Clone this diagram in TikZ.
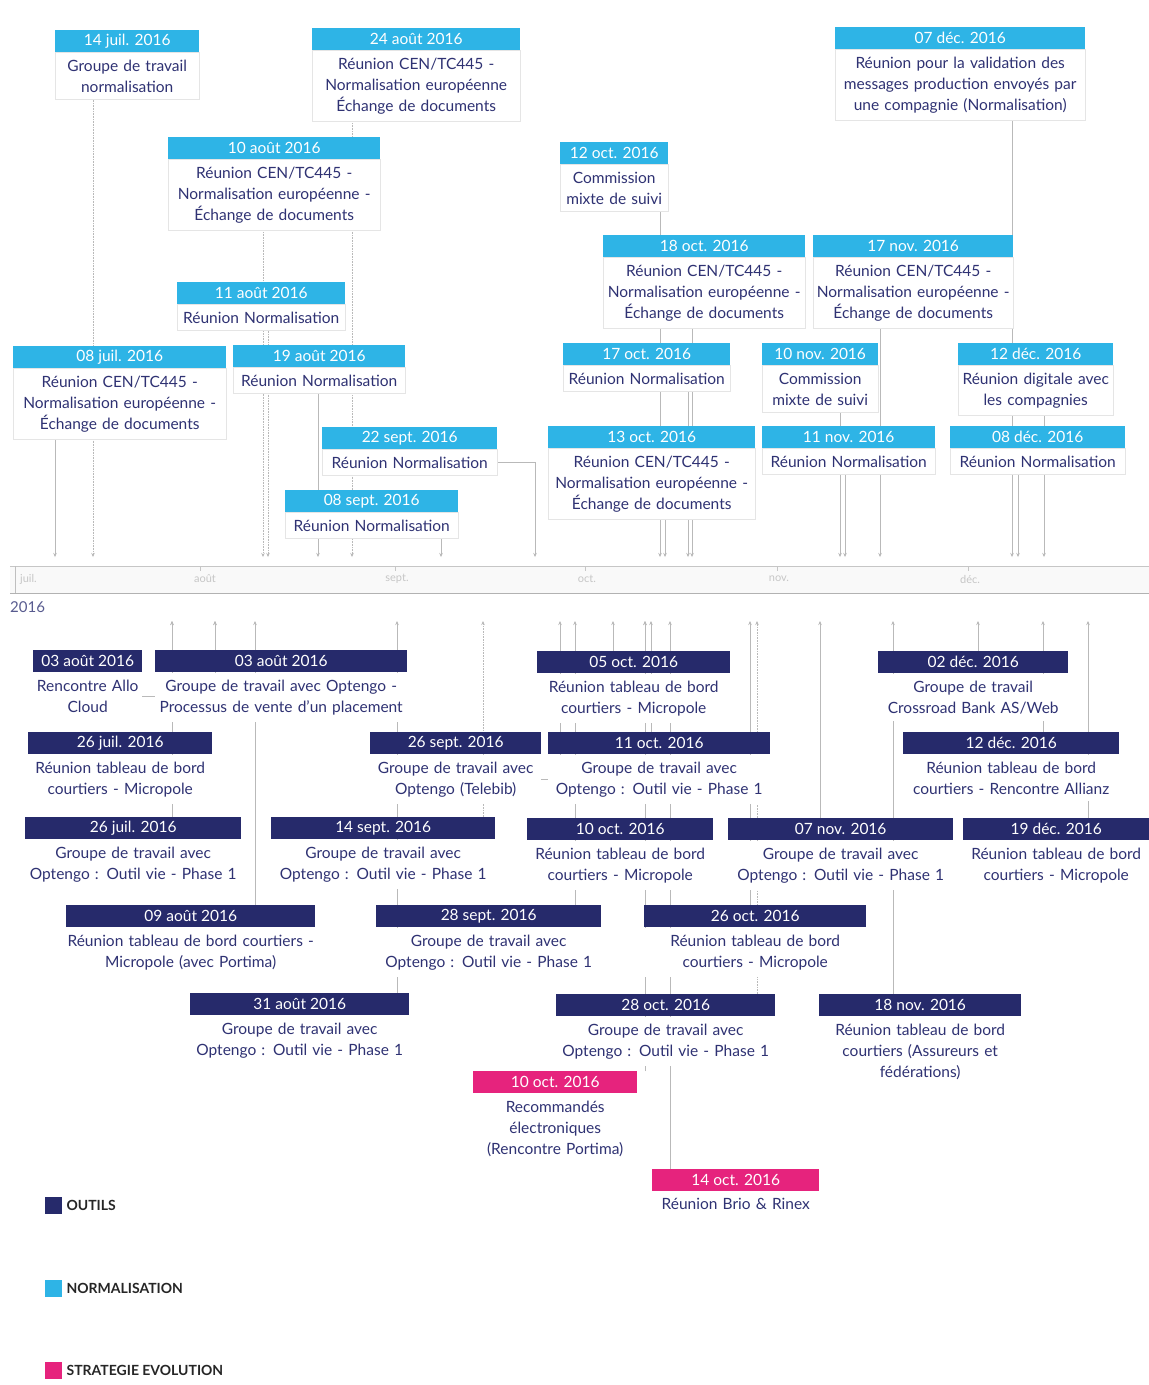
\documentclass[tikz,border=0pt]{standalone}
\usepackage{fontspec}
\setmainfont{Lato}
\usetikzlibrary{arrows.meta,backgrounds}
\definecolor{normblue}{HTML}{2EB4E6}
\definecolor{outnavy}{HTML}{262A6B}
\definecolor{stratpink}{HTML}{E6237D}
\definecolor{ink}{HTML}{2F3273}

\pgfdeclarelayer{paper}
\pgfsetlayers{paper,background,main}

% one event: #1 name, #2 header colour, #3 left, #4 right, #5 top, #6 date, #7 text, #8 body style
\newcommand{\evt}[8]{%
  \pgfmathsetmacro{\evw}{#4-#3}%
  \node[hdr, fill=#2, minimum width=\evw pt, anchor=north west] (#1h) at (#3,#5) {#6};
  \node[#8, text width=\evw pt, anchor=north] (#1b) at (#1h.south) {#7};
}

\begin{document}
\begin{tikzpicture}[x=1pt,y=-1pt,
  hdr/.style={inner sep=0pt, minimum height=22pt, text=white,
    font=\fontsize{15.5}{17}\selectfont},
  topbody/.style={fill=white, draw=gray!20, line width=0.8pt, inner xsep=0pt,
    inner ysep=7pt, align=center, text=ink, font=\fontsize{15.5}{21}\selectfont},
  botbody/.style={fill=white, inner xsep=0pt, inner ysep=7pt, align=center,
    text=ink, font=\fontsize{15.5}{21}\selectfont},
  conn/.style={draw=gray!55, line width=0.6pt, -{Stealth[length=4pt,width=3.5pt]}},
  dotconn/.style={conn, densely dotted, line width=0.9pt},
  month/.style={text=gray!45, font=\fontsize{11}{12}\selectfont, inner sep=0pt},
  legbox/.style={minimum size=17pt, inner sep=0pt, anchor=north west},
  legtxt/.style={anchor=west, inner sep=0pt, text=black!85,
    font=\bfseries\fontsize{14}{14}\selectfont}]

\begin{pgfonlayer}{paper}
  \fill[white] (0,0) rectangle (1149,1385);
\end{pgfonlayer}
\useasboundingbox (0,0) rectangle (1149,1385);

% ---------- time axis ----------
\node[fill=gray!5, minimum width=1139pt, minimum height=27pt, inner sep=0pt,
  anchor=north west] (tl) at (10,566) {};
\draw[gray!45, line width=0.8pt] (tl.north west) -- (tl.north east);
\draw[gray!60, line width=1.6pt] (tl.south west) -- (tl.south east);
\draw[gray!50, line width=0.8pt] ([xshift=5pt]tl.north west) -- ([xshift=5pt]tl.south west);
\foreach \mx in {200,395,585,777,968}
  \draw[gray!45, line width=0.6pt] (\mx,566) -- (\mx,571);
\node[month, anchor=west] (mjul) at (20,579) {juil.};
\node[month] (maug) at (205,579) {août};
\node[month] (msep) at (397,579) {sept.};
\node[month] (moct) at (587,579) {oct.};
\node[month] (mnov) at (779,579) {nov.};
\node[month] (mdec) at (970,579) {déc.};
\node[anchor=west, inner sep=0pt, text=ink!80, font=\fontsize{15}{16}\selectfont]
  (year) at (10,607) {2016};

% ---------- normalisation (above the axis) ----------
\evt{A}{normblue}{55}{199}{30}{14 juil. 2016}{Groupe de travail\\normalisation}{topbody}
\evt{B}{normblue}{312}{520}{28}{24 août 2016}{Réunion CEN/TC445 -\\Normalisation européenne\\Échange de documents}{topbody}
\evt{C}{normblue}{168}{380}{137}{10 août 2016}{Réunion CEN/TC445 -\\Normalisation européenne -\\Échange de documents}{topbody}
\evt{D}{normblue}{177}{345}{282}{11 août 2016}{Réunion Normalisation}{topbody}
\evt{E}{normblue}{13}{226}{346}{08 juil. 2016}{Réunion CEN/TC445 -\\Normalisation européenne -\\Échange de documents}{topbody}
\evt{F}{normblue}{233}{405}{345}{19 août 2016}{Réunion Normalisation}{topbody}
\evt{G}{normblue}{322}{497}{427}{22 sept. 2016}{Réunion Normalisation}{topbody}
\evt{H}{normblue}{285}{458}{490}{08 sept. 2016}{Réunion Normalisation}{topbody}
\evt{I}{normblue}{835}{1085}{27}{07 déc. 2016}{Réunion pour la validation des\\messages production envoyés par\\une compagnie (Normalisation)}{topbody}
\evt{J}{normblue}{560}{668}{142}{12 oct. 2016}{Commission\\mixte de suivi}{topbody}
\evt{K}{normblue}{603}{805}{235}{18 oct. 2016}{Réunion CEN/TC445 -\\Normalisation européenne -\\Échange de documents}{topbody}
\evt{L}{normblue}{813}{1013}{235}{17 nov. 2016}{Réunion CEN/TC445 -\\Normalisation européenne -\\Échange de documents}{topbody}
\evt{M}{normblue}{563}{730}{343}{17 oct. 2016}{Réunion Normalisation}{topbody}
\evt{N}{normblue}{762}{878}{343}{10 nov. 2016}{Commission\\mixte de suivi}{topbody}
\evt{O}{normblue}{958}{1113}{343}{12 déc. 2016}{Réunion digitale avec\\les compagnies}{topbody}
\evt{P}{normblue}{548}{755}{426}{13 oct. 2016}{Réunion CEN/TC445 -\\Normalisation européenne -\\Échange de documents}{topbody}
\evt{Q}{normblue}{762}{935}{426}{11 nov. 2016}{Réunion Normalisation}{topbody}
\evt{R}{normblue}{950}{1125}{426}{08 déc. 2016}{Réunion Normalisation}{topbody}

% ---------- outils and stratégie (below the axis) ----------
\evt{ba}{outnavy}{33}{142}{650}{03 août 2016}{Rencontre Allo\\Cloud}{botbody}
\evt{bb}{outnavy}{155}{407}{650}{03 août 2016}{Groupe de travail avec Optengo -\\Processus de vente d'un placement}{botbody}
\evt{bc}{outnavy}{28}{212}{732}{26 juil. 2016}{Réunion tableau de bord\\courtiers - Micropole}{botbody}
\evt{bd}{outnavy}{25}{241}{817}{26 juil. 2016}{Groupe de travail avec\\Optengo : Outil vie - Phase 1}{botbody}
\evt{be}{outnavy}{66}{315}{905}{09 août 2016}{Réunion tableau de bord courtiers -\\Micropole (avec Portima)}{botbody}
\evt{bf}{outnavy}{190}{409}{993}{31 août 2016}{Groupe de travail avec\\Optengo : Outil vie - Phase 1}{botbody}
\evt{bg}{outnavy}{370}{541}{732}{26 sept. 2016}{Groupe de travail avec\\Optengo (Telebib)}{botbody}
\evt{bh}{outnavy}{271}{495}{817}{14 sept. 2016}{Groupe de travail avec\\Optengo : Outil vie - Phase 1}{botbody}
\evt{bi}{outnavy}{376}{601}{905}{28 sept. 2016}{Groupe de travail avec\\Optengo : Outil vie - Phase 1}{botbody}
\evt{bj}{outnavy}{537}{730}{651}{05 oct. 2016}{Réunion tableau de bord\\courtiers - Micropole}{botbody}
\evt{bk}{outnavy}{548}{770}{732}{11 oct. 2016}{Groupe de travail avec\\Optengo : Outil vie - Phase 1}{botbody}
\evt{bl}{outnavy}{527}{713}{818}{10 oct. 2016}{Réunion tableau de bord\\courtiers - Micropole}{botbody}
\evt{bm}{outnavy}{644}{866}{905}{26 oct. 2016}{Réunion tableau de bord\\courtiers - Micropole}{botbody}
\evt{bn}{outnavy}{556}{775}{994}{28 oct. 2016}{Groupe de travail avec\\Optengo : Outil vie - Phase 1}{botbody}
\evt{bo}{stratpink}{473}{637}{1071}{10 oct. 2016}{Recommandés\\électroniques\\(Rencontre Portima)}{botbody}
\evt{bp}{stratpink}{652}{819}{1169}{14 oct. 2016}{Réunion Brio \& Rinex}{botbody}
\evt{bq}{outnavy}{728}{953}{818}{07 nov. 2016}{Groupe de travail avec\\Optengo : Outil vie - Phase 1}{botbody}
\evt{br}{outnavy}{819}{1021}{994}{18 nov. 2016}{Réunion tableau de bord\\courtiers (Assureurs et\\fédérations)}{botbody}
\evt{bs}{outnavy}{878}{1068}{651}{02 déc. 2016}{Groupe de travail\\Crossroad Bank AS/Web}{botbody}
\evt{bt}{outnavy}{903}{1119}{732}{12 déc. 2016}{Réunion tableau de bord\\courtiers - Rencontre Allianz}{botbody}
\evt{bu}{outnavy}{963}{1149}{818}{19 déc. 2016}{Réunion tableau de bord\\courtiers - Micropole}{botbody}

% ---------- points on the axis ----------
\foreach \n/\x in {A/93,B/352,C/263,D/268,E/55,F/318,G/535,H/441,I/1012,J/660,
                   K/692,L/880,M/688,N/840,O/1044,P/665,Q/845,R/1018}
  \coordinate (t\n) at (\x,557);
\foreach \n/\x in {bb/215,bc/172,be/255,bf/397,bg/560,bh/483,bi/575,bj/613,bk/651,
                   bl/645,bm/750,bn/757,bp/670,bq/820,br/893,bs/978,bt/1043,bu/1088}
  \coordinate (u\n) at (\x,621);

% ---------- connectors, kept behind the boxes ----------
\begin{scope}[on background layer]
  \foreach \n in {A,B,C,D}
    \draw[dotconn] (t\n |- \n b.south) -- (t\n);
  \foreach \n in {E,F,H,I,J,K,L,M,N,O,P,Q,R}
    \draw[conn] (t\n |- \n b.south) -- (t\n);
  \draw[conn] (Gb.east) -| (tG);
  \foreach \n in {bb,be,bf,bi,bj,bk,bl,bm,bp,bq,br,bs,bt,bu}
    \draw[conn] (u\n |- \n h.north) -- (u\n);
  \draw[conn] (ubc |- bch.north) -- (ubc);
  \draw[conn] (ubc |- bdh.north) -- (ubc);
  \draw[conn] (ubl |- boh.north) -- (ubl);
  \draw[conn] (bab.east) -| (ubb);
  \draw[conn] (bgb.east) -| (ubg);
  \draw[dotconn] (ubh |- bhh.north) -- (ubh);
  \draw[dotconn] (ubn |- bnh.north) -- (ubn);
\end{scope}

% ---------- legend ----------
\node[legbox, fill=outnavy] (lgo) at (45,1197) {};
\node[legtxt] (lgot) at ([xshift=4pt]lgo.east) {OUTILS};
\node[legbox, fill=normblue] (lgn) at (45,1280) {};
\node[legtxt] (lgnt) at ([xshift=4pt]lgn.east) {NORMALISATION};
\node[legbox, fill=stratpink] (lgs) at (45,1362) {};
\node[legtxt] (lgst) at ([xshift=4pt]lgs.east) {STRATEGIE EVOLUTION};
\end{tikzpicture}
\end{document}
